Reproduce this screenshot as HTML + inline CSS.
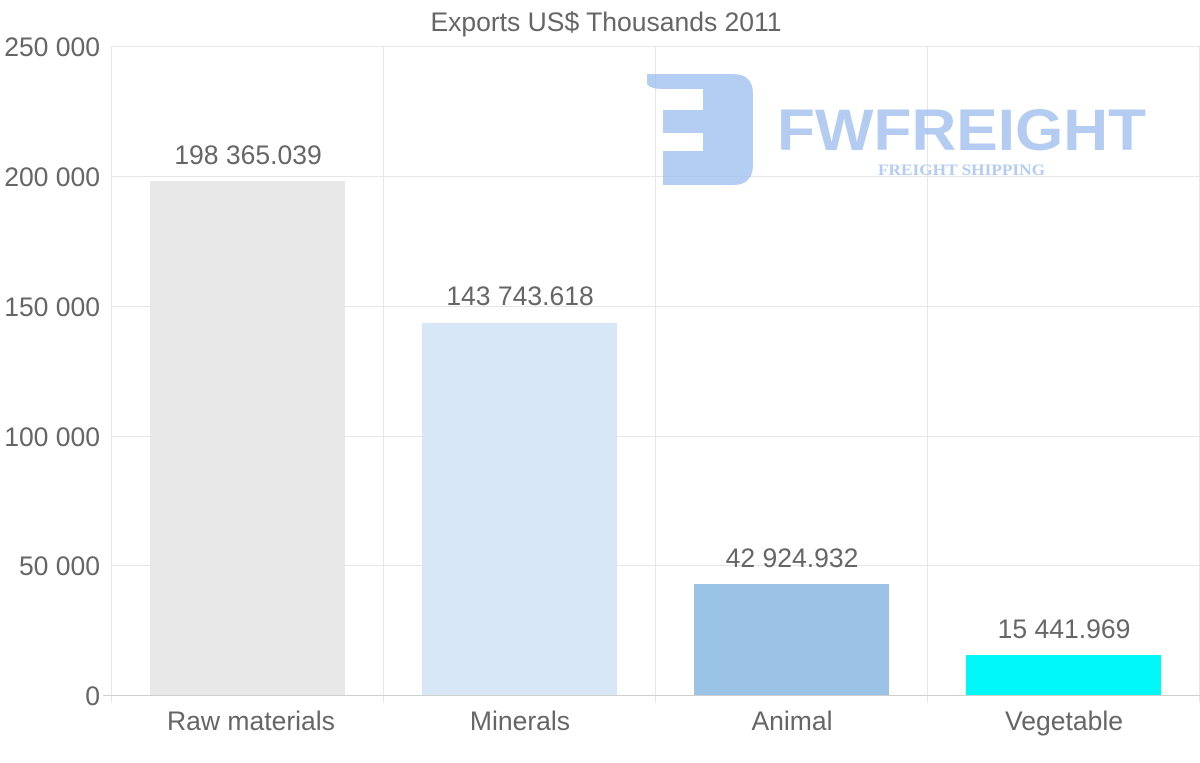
<!DOCTYPE html>
<html><head><meta charset="utf-8"><style>
html,body{margin:0;padding:0;background:#fff;}
svg{display:block;font-family:"Liberation Sans",sans-serif;}
</style></head><body>
<svg width="1200" height="763" viewBox="0 0 1200 763">
<g stroke="#e6e6e6" stroke-width="1">
<line x1="111" y1="46.5" x2="1200" y2="46.5"/>
<line x1="111" y1="176.5" x2="1200" y2="176.5"/>
<line x1="111" y1="306.5" x2="1200" y2="306.5"/>
<line x1="111" y1="436.5" x2="1200" y2="436.5"/>
<line x1="111" y1="565.5" x2="1200" y2="565.5"/>
<line x1="111.5" y1="46" x2="111.5" y2="703"/>
<line x1="383.5" y1="46" x2="383.5" y2="703"/>
<line x1="655.5" y1="46" x2="655.5" y2="703"/>
<line x1="927.5" y1="46" x2="927.5" y2="703"/>
<line x1="1199.5" y1="46" x2="1199.5" y2="703"/>
</g>
<line x1="103" y1="695.5" x2="1200" y2="695.5" stroke="#cfcfcf"/>
<g opacity="0.75" fill="#9bbcee">
<path d="M647 74 H733 Q753 74 753 94 V165 Q753 185 733 185 H663 V151 H703 V133 H663 V110 H703 V89 H663 Q650 89 647 84 Z"/>
<text x="777" y="150" font-size="58" font-weight="bold" textLength="369" lengthAdjust="spacingAndGlyphs">FWFREIGHT</text>
<text x="878" y="175" font-size="16" font-weight="bold" font-family="Liberation Serif,serif" textLength="167" lengthAdjust="spacingAndGlyphs">FREIGHT SHIPPING</text>
</g>
<rect x="150" y="181" width="195" height="514" fill="#e8e8e8"/>
<rect x="422" y="323" width="195" height="372" fill="#d8e7f8"/>
<rect x="694" y="584" width="195" height="111" fill="#9bc3e6"/>
<rect x="966" y="655" width="195" height="40" fill="#00f8f8"/>
<g fill="#666" font-size="26.5">
<text x="606" y="31" text-anchor="middle">Exports US$ Thousands 2011</text>
<g text-anchor="end">
<text x="100" y="56">250 000</text>
<text x="100" y="186">200 000</text>
<text x="100" y="316">150 000</text>
<text x="100" y="446">100 000</text>
<text x="100" y="575">50 000</text>
<text x="100" y="705">0</text>
</g>
<g text-anchor="middle">
<text x="248" y="164">198 365.039</text>
<text x="520" y="305">143 743.618</text>
<text x="792" y="567">42 924.932</text>
<text x="1064" y="638">15 441.969</text>
<text x="251" y="730">Raw materials</text>
<text x="520" y="730">Minerals</text>
<text x="792" y="730">Animal</text>
<text x="1064" y="730">Vegetable</text>
</g>
</g>
</svg>
</body></html>
